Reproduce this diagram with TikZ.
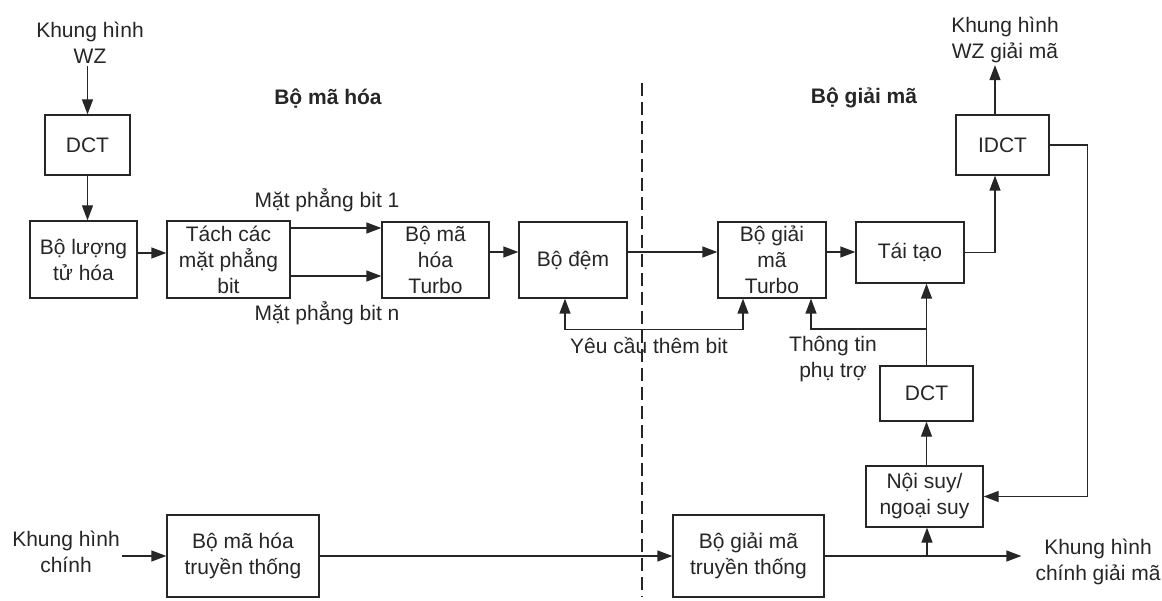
\documentclass[tikz,border=0pt]{standalone}
\usepackage{fontspec}
\setmainfont{Liberation Sans}
\usetikzlibrary{arrows.meta,calc}
\begin{document}
\begin{tikzpicture}[x=1pt,y=-1pt,
  every node/.style={font=\fontsize{21}{26}\selectfont, align=center, text=black!85, inner sep=2pt},
  blk/.style={draw=black!85, line width=1.3pt, rectangle, inner sep=0pt},
  arr/.style={draw=black!85, line width=1.3pt, -{Triangle[length=15pt,width=11pt]}},
  darr/.style={draw=black!85, line width=1.3pt, {Triangle[length=15pt,width=11pt]}-{Triangle[length=15pt,width=11pt]}},
  sep/.style={draw=black!85, line width=1.3pt, dash pattern=on 13pt off 6pt}]
\useasboundingbox (0,0) rectangle (1162,601);
% boxes
\node[blk, minimum width=85, minimum height=60] (dct1) at (87.5,145) {DCT};
\node[blk, minimum width=107, minimum height=77] (quant) at (83.5,259.5) {Bộ lượng\\tử hóa};
\node[blk, minimum width=123, minimum height=77] (split) at (228.5,259.5) {Tách các\\mặt phẳng\\bit};
\node[blk, minimum width=107, minimum height=76] (tenc) at (435.5,260) {Bộ mã\\hóa\\Turbo};
\node[blk, minimum width=108, minimum height=76] (buf) at (573,260) {Bộ đệm};
\node[blk, minimum width=108, minimum height=76] (tdec) at (772,260) {Bộ giải\\mã\\Turbo};
\node[blk, minimum width=108, minimum height=61] (recon) at (910,252.5) {Tái tạo};
\node[blk, minimum width=93, minimum height=60] (idct) at (1002.5,145) {IDCT};
\node[blk, minimum width=93, minimum height=55] (dct2) at (926.5,393.5) {DCT};
\node[blk, minimum width=117, minimum height=61] (interp) at (924.5,496.5) {Nội suy/\\ngoại suy};
\node[blk, minimum width=152, minimum height=82] (encT) at (243,556) {Bộ mã hóa\\truyền thống};
\node[blk, minimum width=151, minimum height=82] (decT) at (748.5,556) {Bộ giải mã\\truyền thống};
% texts
\node (inWZ) at (90,43) {Khung hình\\WZ};
\node (outWZ) at (1005,40) {Khung hình\\WZ giải mã};
\node (inKey) at (66,552) {Khung hình\\chính};
\node (outKey) at (1098,562) {Khung hình\\chính giải mã};
\node[font=\fontsize{21}{26}\selectfont\bfseries] (encLbl) at (328,99) {Bộ mã hóa};
\node[font=\fontsize{21}{26}\selectfont\bfseries] (decLbl) at (864,98) {Bộ giải mã};
\node (bit1) at (327,200) {Mặt phẳng bit 1};
\node (bitn) at (327,313) {Mặt phẳng bit n};
\node (req) at (649,346) {Yêu cầu thêm bit};
\node (side) at (833,359) {Thông tin\\phụ trợ};
% separator
\coordinate (sepTop) at (642,83);
\coordinate (sepBot) at (642,597);
\draw[sep] (sepTop) -- (sepBot);
% connectors
\draw[arr] (inWZ.south -| dct1.north) -- (dct1.north);
\draw[arr] (dct1.south) -- (dct1.south |- quant.north);
\draw[arr] ([yshift=6.5pt]quant.east) -- ([yshift=6.5pt]split.west);
\draw[arr] ([yshift=31.5pt]split.east) -- ([yshift=31.5pt]split.east -| tenc.west);
\draw[arr] ([yshift=-16.5pt]split.east) -- ([yshift=-16.5pt]split.east -| tenc.west);
\draw[arr] ([yshift=8pt]tenc.east) -- ([yshift=8pt]buf.west);
\draw[arr] ([yshift=8pt]buf.east) -- ([yshift=8pt]tdec.west);
\draw[arr] ([yshift=8pt]tdec.east) -- ([yshift=8pt]tdec.east -| recon.west);
\draw[darr] ([xshift=-8pt]buf.south) -- ++(0,31) -| ([xshift=-29pt]tdec.south);
\draw[arr] (recon.east) -| ([xshift=-7.5pt]idct.south);
\draw[arr] ([xshift=-7.5pt]idct.north) -- ([xshift=-7.5pt]idct.north |- outWZ.south);
\draw[arr] (idct.east) -- ++(38,0) |- (interp.east);
\draw[arr] (interp.north -| dct2.south) -- (dct2.south);
\draw[arr] (dct2.north) -- (dct2.north |- recon.south);
\coordinate (jSide) at (927,329);
\draw[arr] (jSide) -| ([xshift=39pt]tdec.south);
\draw[arr] (inKey.east |- encT.west) -- (encT.west);
\draw[arr] (encT.east) -- (decT.west);
\draw[arr, shorten >=12pt] (decT.east) -- (decT.east -| outKey.west);
\coordinate (jKey) at (927,556);
\draw[arr] (jKey) -- (jKey |- interp.south);
\end{tikzpicture}
\end{document}
